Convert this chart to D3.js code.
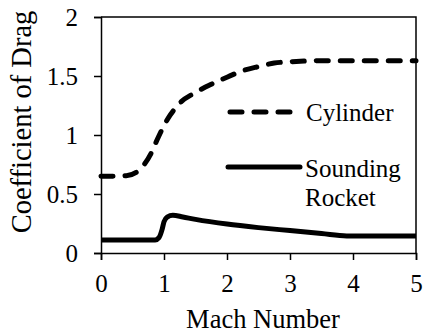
<!DOCTYPE html>
<html>
<head>
<meta charset="utf-8">
<script src="https://cdn.jsdelivr.net/npm/d3@7"></script>
<style>
  body { margin: 0; background: #fff; }
  text { font-family: "Liberation Serif", "Times New Roman", serif; fill: #000; }
</style>
</head>
<body>
<svg id="chart" width="424" height="335"></svg>
<script>
// Valores
var cylMach = [0, 0.4, 0.6, 0.8, 0.9, 1.0, 1.1, 1.25, 1.5, 1.75, 2.0, 2.25, 2.5, 2.75, 3.0, 3.5, 4.0, 5.0];
var cylCd   = [0.65, 0.655, 0.70, 0.85, 0.97, 1.08, 1.17, 1.27, 1.36, 1.43, 1.49, 1.545, 1.58, 1.61, 1.62, 1.63, 1.63, 1.63];

var rocketMach = [0, 0.86, 0.92, 0.97, 1.0, 1.05, 1.14, 1.3, 1.5, 2.0, 2.5, 3.0, 3.5, 3.9, 5.0];
var rocketCd   = [0.11, 0.11, 0.13, 0.2, 0.265, 0.305, 0.32, 0.305, 0.285, 0.245, 0.215, 0.19, 0.165, 0.145, 0.145];

var xTicks = [0, 1, 2, 3, 4, 5];
var yTicks = [0, 0.5, 1, 1.5, 2];
var seriesNames = ["Cylinder", "Sounding Rocket"];

var DragChart = function () {
  var svg = d3.select("#chart");

  // Área do gráfico
  var m = { left: 101, right: 416, top: 17, bottom: 253 };
  var x = d3.scaleLinear().domain([0, 5]).range([m.left, m.right]);
  var y = d3.scaleLinear().domain([0, 2]).range([m.bottom, m.top]);

  var fontSize = "25px";

  // Moldura (topo e direita)
  svg.append("path")
    .attr("d", "M" + m.left + "," + m.top + "H" + m.right + "V" + m.bottom)
    .attr("fill", "none").attr("stroke", "#000").attr("stroke-width", 1.5);

  // Eixos
  var xAxis = svg.append("g")
    .attr("transform", "translate(0," + m.bottom + ")")
    .call(d3.axisBottom(x).tickValues(xTicks).tickSize(7).tickPadding(14).tickFormat(d3.format("d")));
  var yAxis = svg.append("g")
    .attr("transform", "translate(" + m.left + ",0)")
    .call(d3.axisLeft(y).tickValues(yTicks).tickSize(7).tickPadding(16).tickFormat(function (d) { return String(d); }));

  [xAxis, yAxis].forEach(function (a) {
    a.select(".domain").attr("stroke-width", 1.5);
    a.selectAll(".tick line").attr("stroke-width", 1.5);
    a.selectAll("text").style("font-size", fontSize).style("font-family", "Liberation Serif, serif");
  });

  // Títulos dos eixos
  svg.append("text")
    .attr("x", 263).attr("y", 328)
    .attr("text-anchor", "middle").style("font-size", "26.5px")
    .text("Mach Number");
  svg.append("text")
    .attr("transform", "translate(31,122) rotate(-90)")
    .attr("text-anchor", "middle").style("font-size", "28.5px")
    .text("Coefficient of Drag");

  // Linhas
  var line = d3.line()
    .x(function (d) { return x(d[0]); })
    .y(function (d) { return y(d[1]); })
    .curve(d3.curveMonotoneX);

  svg.append("path")
    .datum(d3.zip(cylMach, cylCd))
    .attr("d", line)
    .attr("fill", "none").attr("stroke", "#000").attr("stroke-width", 5)
    .attr("stroke-dasharray", "12,12").attr("stroke-linecap", "round");

  svg.append("path")
    .datum(d3.zip(rocketMach, rocketCd))
    .attr("d", line)
    .attr("fill", "none").attr("stroke", "#000").attr("stroke-width", 5)
    .attr("stroke-linejoin", "round");

  // Legenda
  var leg = svg.append("g");
  leg.append("line")
    .attr("x1", 230).attr("x2", 290).attr("y1", 112).attr("y2", 112)
    .attr("stroke", "#000").attr("stroke-width", 5)
    .attr("stroke-dasharray", "12,12").attr("stroke-linecap", "round");
  leg.append("text").attr("x", 306).attr("y", 121).style("font-size", fontSize).text(seriesNames[0]);

  leg.append("line")
    .attr("x1", 228).attr("x2", 300).attr("y1", 167).attr("y2", 167)
    .attr("stroke", "#000").attr("stroke-width", 5).attr("stroke-linecap", "round");
  var words = seriesNames[1].split(" ");
  leg.append("text").attr("x", 305).attr("y", 177).style("font-size", fontSize).text(words[0]);
  leg.append("text").attr("x", 305).attr("y", 206).style("font-size", fontSize).text(words[1]);
};

DragChart();
</script>
</body>
</html>
